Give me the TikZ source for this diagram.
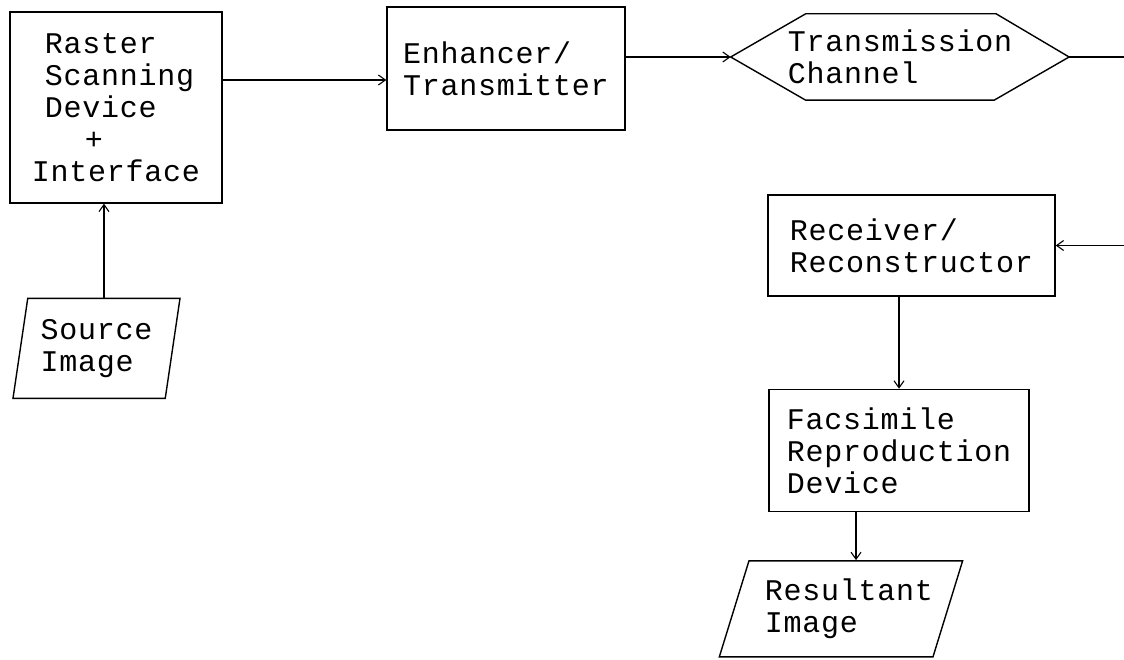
\documentclass[tikz,border=0pt]{standalone}
\usepackage{fontspec}
\newfontfamily\typefont[LetterSpace=2.5]{Liberation Mono}
\usetikzlibrary{arrows.meta,positioning,shapes.geometric}

\begin{document}
\begin{tikzpicture}[
  x=1pt, y=1pt,
  typed/.style={align=left, inner sep=0pt, font={\typefont\fontsize{30}{32}\selectfont}},
  box/.style={typed, draw, line width=1.4pt},
  io/.style={box, trapezium, trapezium stretches body},
  arrow/.style={-{Straight Barb[length=7pt,width=10pt]}, line width=1.1pt},
]
\useasboundingbox (0,0) rectangle (1124,-660);

\node[box, minimum width=212pt, minimum height=191pt] (raster) at (116,-107.5) {\hspace*{13pt}Raster\\\hspace*{13pt}Scanning\\\hspace*{13pt}Device\\\hspace*{53pt}+\\Interface};
\node[box, minimum width=238pt, minimum height=123pt] (enh) at (506,-68.5) {Enhancer/\\Transmitter};
\node[typed, minimum width=338pt, minimum height=86pt, right=105pt of enh, yshift=11.5pt] (chan) {Transmission\\Channel};
\draw[line width=1.4pt] (chan.west) -- ([xshift=75pt]chan.north west) -- ([xshift=-73pt]chan.north east)
  -- (chan.east) -- ([xshift=-75pt]chan.south east) -- ([xshift=75pt]chan.south west) -- cycle;
\node[box, minimum width=287pt, minimum height=101pt] (recv) at (911.5,-245.5) {Receiver/\\Reconstructor};
\node[box, minimum width=260pt, minimum height=122pt, below=92pt of recv, xshift=-12.5pt] (fac) {Facsimile\\Reproduction\\Device};
\node[io, trapezium left angle=63.7, trapezium right angle=116.3, minimum width=240pt, minimum height=96pt,
  below=48pt of fac, xshift=-58pt] (res) {\hspace*{16pt}Resultant\\\hspace*{16pt}Image};
\node[io, trapezium left angle=75.8, trapezium right angle=104.2, minimum width=167pt, minimum height=100pt,
  below=94pt of raster, xshift=-19.5pt] (src) {Source\\Image};

% connectors
\coordinate (rout) at ([yshift=27.5pt]raster.east);
\draw[arrow] (rout) -- (rout -| enh.west);
\draw[arrow] (enh.east |- chan.west) -- (chan.west);
\draw[arrow] (chan.east) -- ++(55pt,0) |- (recv.east);
\draw[arrow] (fac.north |- recv.south) -- (fac.north);
\draw[arrow] (res.top side |- fac.south) -- (res.top side);
\draw[arrow] (src.top side) -- (src.top side |- raster.south);

\end{tikzpicture}
\end{document}
